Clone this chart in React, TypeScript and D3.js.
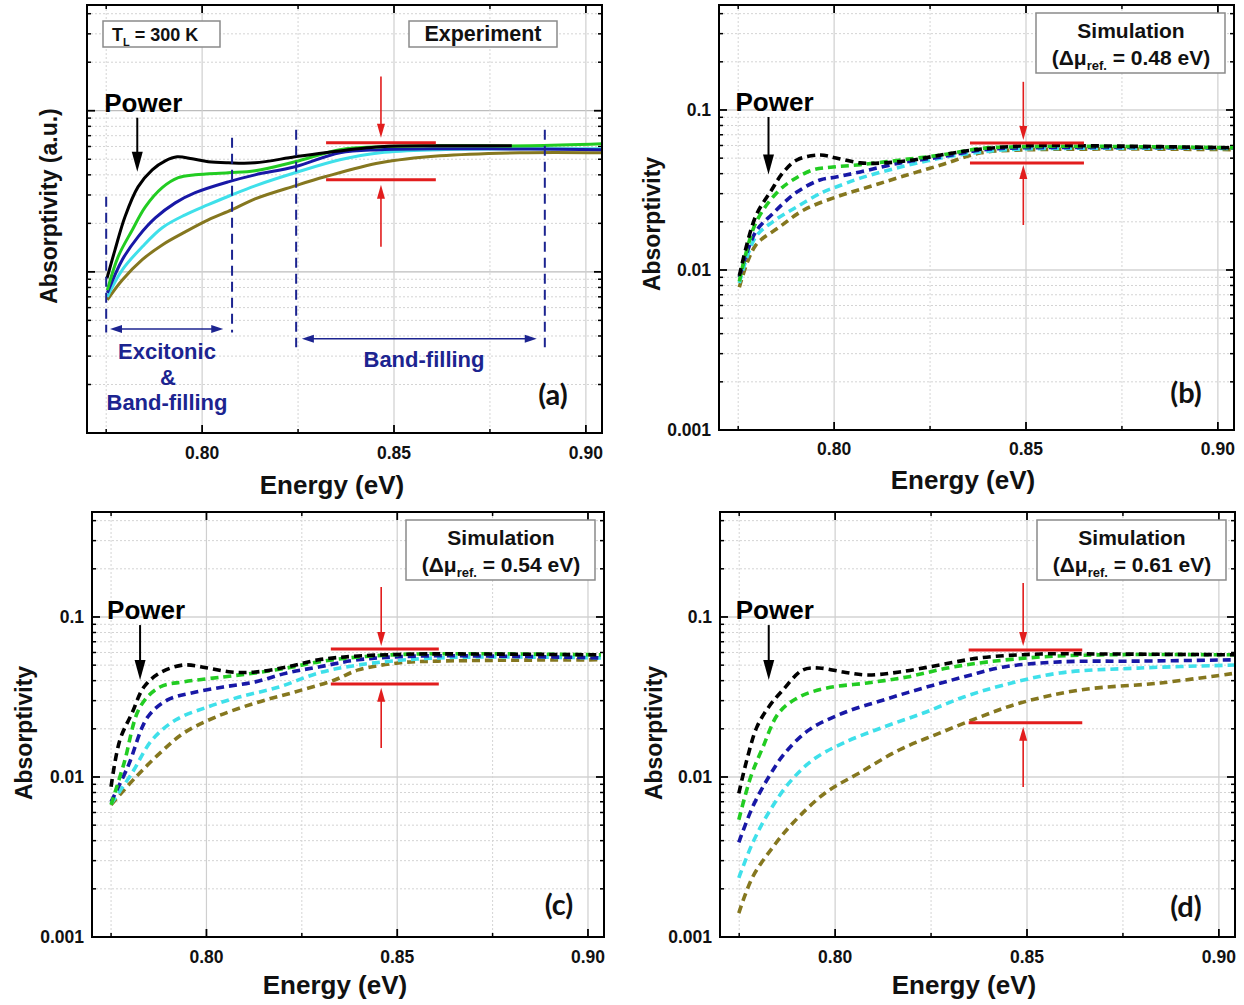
import React from 'react';
import * as d3 from 'd3';

type Pt = [number, number];

// ---------- axes ----------
const X_DOMAIN: [number, number] = [0.770, 0.9042];
const Y_DOMAIN: [number, number] = [0.001, 0.453];
const X_MAJOR = [0.80, 0.85, 0.90];
const X_MINOR = [0.775, 0.825, 0.875];
const X_TICK_LABELS = ['0.80', '0.85', '0.90'];
const Y_MAJOR = [0.001, 0.01, 0.1];
const Y_TICK_LABELS = ['0.001', '0.01', '0.1'];

// ---------- series colours (olive, cyan, blue, green, black) ----------
const SERIES = ['olive', 'cyan', 'blue', 'green', 'black'];
const COLORS: Record<string, string> = {
  olive: '#85771f',
  cyan: '#3fe0ea',
  blue: '#1818a6',
  green: '#22cc22',
  black: '#000000',
};

// ---------- (a) Experiment ----------
const aBlack: Pt[] = [[0.7752, 0.0091], [0.7773, 0.0137], [0.7799, 0.0220], [0.7833, 0.0337], [0.7870, 0.0430], [0.7904, 0.0489], [0.7935, 0.0518], [0.7974, 0.0503], [0.8016, 0.0482], [0.8068, 0.0475], [0.8138, 0.0475], [0.8242, 0.0518], [0.8320, 0.0549], [0.8464, 0.0598], [0.8620, 0.0606], [0.8807, 0.0606]];
const aGreen: Pt[] = [[0.7753, 0.0077], [0.7781, 0.0124], [0.7818, 0.0182], [0.7852, 0.0253], [0.7896, 0.0333], [0.7938, 0.0384], [0.7982, 0.0400], [0.8068, 0.0412], [0.8138, 0.0424], [0.8242, 0.0482], [0.8359, 0.0573], [0.8464, 0.0598], [0.8620, 0.0606], [0.8854, 0.0606], [0.9049, 0.0624]];
const aBlue: Pt[] = [[0.7753, 0.0074], [0.7792, 0.0119], [0.7833, 0.0165], [0.7878, 0.0216], [0.7930, 0.0268], [0.7982, 0.0310], [0.8068, 0.0362], [0.8138, 0.0400], [0.8242, 0.0449], [0.8359, 0.0549], [0.8464, 0.0573], [0.8620, 0.0581], [0.8854, 0.0578], [0.9049, 0.0573]];
const aCyan: Pt[] = [[0.7753, 0.0070], [0.7792, 0.0103], [0.7844, 0.0143], [0.7896, 0.0188], [0.7956, 0.0226], [0.8016, 0.0261], [0.8078, 0.0301], [0.8138, 0.0342], [0.8242, 0.0412], [0.8359, 0.0496], [0.8464, 0.0549], [0.8620, 0.0573], [0.8854, 0.0581], [0.9049, 0.0581]];
const aOlive: Pt[] = [[0.7753, 0.0067], [0.7792, 0.0089], [0.7844, 0.0119], [0.7896, 0.0147], [0.7956, 0.0177], [0.8016, 0.0210], [0.8078, 0.0243], [0.8138, 0.0284], [0.8242, 0.0342], [0.8320, 0.0389], [0.8464, 0.0475], [0.8620, 0.0525], [0.8828, 0.0549], [0.9049, 0.0549]];

// ---------- (b) Simulation 0.48 eV ----------
const bBlack: Pt[] = [[0.7753, 0.0092], [0.7795, 0.0215], [0.7837, 0.0316], [0.7866, 0.0404], [0.7903, 0.0487], [0.7963, 0.0523], [0.8005, 0.0501], [0.8068, 0.0467], [0.8131, 0.0467], [0.8205, 0.0487], [0.8278, 0.0523], [0.8362, 0.0562], [0.8488, 0.0596], [0.8698, 0.0596], [0.9050, 0.0580]];
const bGreen: Pt[] = [[0.7753, 0.0085], [0.7795, 0.0195], [0.7850, 0.0303], [0.7892, 0.0365], [0.7945, 0.0422], [0.7997, 0.0440], [0.8068, 0.0455], [0.8173, 0.0487], [0.8278, 0.0523], [0.8383, 0.0575], [0.8488, 0.0590], [0.8700, 0.0592], [0.9050, 0.0580]];
const bBlue: Pt[] = [[0.7753, 0.0090], [0.7795, 0.0172], [0.7840, 0.0225], [0.7903, 0.0307], [0.7963, 0.0365], [0.8005, 0.0381], [0.8068, 0.0410], [0.8173, 0.0467], [0.8278, 0.0509], [0.8383, 0.0562], [0.8488, 0.0580], [0.9050, 0.0578]];
const bCyan: Pt[] = [[0.7753, 0.0083], [0.7795, 0.0160], [0.7840, 0.0200], [0.7905, 0.0250], [0.7971, 0.0307], [0.8005, 0.0330], [0.8068, 0.0375], [0.8173, 0.0440], [0.8278, 0.0501], [0.8383, 0.0547], [0.8488, 0.0570], [0.9050, 0.0575]];
const bOlive: Pt[] = [[0.7753, 0.0078], [0.7795, 0.0142], [0.7858, 0.0186], [0.7921, 0.0237], [0.8005, 0.0286], [0.8089, 0.0330], [0.8173, 0.0381], [0.8278, 0.0453], [0.8383, 0.0540], [0.8488, 0.0562], [0.8700, 0.0570], [0.9050, 0.0565]];

// ---------- (c) Simulation 0.54 eV ----------
const cBlack: Pt[] = [[0.7750, 0.0087], [0.7773, 0.0170], [0.7805, 0.0251], [0.7836, 0.0365], [0.7878, 0.0447], [0.7940, 0.0501], [0.8003, 0.0480], [0.8065, 0.0453], [0.8128, 0.0453], [0.8211, 0.0487], [0.8294, 0.0540], [0.8398, 0.0570], [0.8555, 0.0587], [0.8711, 0.0587], [0.9034, 0.0580]];
const cGreen: Pt[] = [[0.7750, 0.0067], [0.7784, 0.0122], [0.7826, 0.0274], [0.7878, 0.0365], [0.7940, 0.0393], [0.8044, 0.0422], [0.8128, 0.0447], [0.8211, 0.0480], [0.8294, 0.0524], [0.8398, 0.0562], [0.8555, 0.0587], [0.9034, 0.0580]];
const cBlue: Pt[] = [[0.7750, 0.0070], [0.7794, 0.0116], [0.7846, 0.0237], [0.7898, 0.0303], [0.7961, 0.0335], [0.8044, 0.0365], [0.8128, 0.0393], [0.8211, 0.0447], [0.8294, 0.0487], [0.8398, 0.0540], [0.8555, 0.0570], [0.9034, 0.0555]];
const cCyan: Pt[] = [[0.7750, 0.0068], [0.7805, 0.0106], [0.7857, 0.0170], [0.7919, 0.0227], [0.8003, 0.0274], [0.8086, 0.0316], [0.8190, 0.0365], [0.8294, 0.0447], [0.8398, 0.0501], [0.8555, 0.0547], [0.8711, 0.0562], [0.9034, 0.0555]];
const cOlive: Pt[] = [[0.7750, 0.0067], [0.7815, 0.0100], [0.7878, 0.0141], [0.7940, 0.0188], [0.8024, 0.0237], [0.8128, 0.0290], [0.8232, 0.0340], [0.8336, 0.0404], [0.8398, 0.0467], [0.8503, 0.0516], [0.8607, 0.0530], [0.9034, 0.0540]];

// ---------- (d) Simulation 0.61 eV ----------
const dBlack: Pt[] = [[0.7749, 0.0079], [0.7770, 0.0128], [0.7796, 0.0205], [0.7827, 0.0274], [0.7864, 0.0350], [0.7916, 0.0467], [0.7958, 0.0480], [0.8021, 0.0453], [0.8084, 0.0434], [0.8168, 0.0453], [0.8272, 0.0501], [0.8377, 0.0555], [0.8534, 0.0587], [0.8700, 0.0587], [0.9047, 0.0580]];
const dGreen: Pt[] = [[0.7749, 0.0054], [0.7780, 0.0100], [0.7812, 0.0154], [0.7853, 0.0251], [0.7906, 0.0316], [0.7979, 0.0360], [0.8084, 0.0387], [0.8188, 0.0422], [0.8293, 0.0480], [0.8398, 0.0524], [0.8534, 0.0562], [0.8691, 0.0580], [0.9047, 0.0580]];
const dBlue: Pt[] = [[0.7749, 0.0039], [0.7785, 0.0065], [0.7827, 0.0100], [0.7869, 0.0141], [0.7932, 0.0197], [0.8021, 0.0251], [0.8126, 0.0303], [0.8230, 0.0360], [0.8335, 0.0422], [0.8440, 0.0487], [0.8586, 0.0524], [0.8796, 0.0530], [0.9047, 0.0540]];
const dCyan: Pt[] = [[0.7749, 0.00234], [0.7785, 0.00387], [0.7827, 0.0060], [0.7880, 0.00918], [0.7942, 0.0128], [0.8021, 0.0163], [0.8126, 0.0205], [0.8230, 0.0251], [0.8335, 0.0316], [0.8440, 0.0376], [0.8586, 0.0447], [0.8796, 0.0480], [0.9047, 0.0501]];
const dOlive: Pt[] = [[0.7749, 0.00141], [0.7785, 0.00237], [0.7838, 0.00365], [0.7890, 0.00516], [0.7974, 0.00794], [0.8063, 0.0106], [0.8168, 0.0148], [0.8272, 0.0188], [0.8377, 0.0237], [0.8482, 0.0290], [0.8639, 0.0350], [0.8848, 0.0387], [0.9047, 0.0447]];

// ---------- annotations (data units) ----------
// red bars: [E0, E1, vTop, vBottom]; arrows: [E, vDownStart, vDownEnd, vUpStart, vUpEnd]
const RED_BARS: Record<string, number[]> = {
  a: [0.8323, 0.8609, 0.0633, 0.0373],
  b: [0.8354, 0.8651, 0.0622, 0.0467],
  c: [0.8326, 0.8609, 0.0631, 0.0381],
  d: [0.8348, 0.8644, 0.0622, 0.0218],
};
const RED_ARROWS: Record<string, number[]> = {
  a: [0.8466, 0.163, 0.068, 0.0143, 0.0347],
  b: [0.8493, 0.150, 0.065, 0.0191, 0.0453],
  c: [0.8458, 0.154, 0.0659, 0.0152, 0.0361],
  d: [0.8490, 0.163, 0.0659, 0.00867, 0.0206],
};
// power arrow [E, vStart, vEnd]
const POWER_ARROW: Record<string, number[]> = {
  a: [0.7831, 0.0905, 0.0418],
  b: [0.7829, 0.0904, 0.0395],
  c: [0.7826, 0.089, 0.0404],
  d: [0.7827, 0.089, 0.0404],
};
// region markers in (a)
const REGION_LINES: number[][] = [
  [0.7750, 0.0292, 0.0042],
  [0.8078, 0.068, 0.0042],
  [0.8245, 0.0762, 0.0034],
  [0.8893, 0.0762, 0.0034],
];
const REGION_SPANS: number[][] = [
  [0.7760, 0.8055, 0.00442],
  [0.8260, 0.8872, 0.00385],
];
const SIM_LABELS: Record<string, string> = { b: '0.48', c: '0.54', d: '0.61' };

const NAVY = '#1c2490';
const RED = '#e21d1d';
const FONT = "'Liberation Sans', Arial, sans-serif";

type PanelCfg = {
  id: string;
  left: number; right: number; top: number; bottom: number;
  dashed: boolean;
  yLabels: boolean;
  yTitle: string;
  yTitleX: number; yTitleY: number;
  xTitleX: number; xTitleY: number;
  xTickY: number;
  label: string; labelX: number; labelY: number;
  data: Record<string, Pt[]>;
};

const PANELS: PanelCfg[] = [
  { id: 'a', left: 87, right: 602, top: 5, bottom: 433, dashed: false, yLabels: false, yTitle: 'Absorptivity (a.u.)', yTitleX: 49, yTitleY: 206, xTitleX: 332, xTitleY: 494, xTickY: 459, label: '(a)', labelX: 553, labelY: 405, data: { olive: aOlive, cyan: aCyan, blue: aBlue, green: aGreen, black: aBlack } },
  { id: 'b', left: 719, right: 1234, top: 5, bottom: 430, dashed: true, yLabels: true, yTitle: 'Absorptivity', yTitleX: 652, yTitleY: 224, xTitleX: 963, xTitleY: 489, xTickY: 455, label: '(b)', labelX: 1186, labelY: 403, data: { olive: bOlive, cyan: bCyan, blue: bBlue, green: bGreen, black: bBlack } },
  { id: 'c', left: 92, right: 604, top: 512, bottom: 937, dashed: true, yLabels: true, yTitle: 'Absorptivity', yTitleX: 24, yTitleY: 733, xTitleX: 335, xTitleY: 994, xTickY: 963, label: '(c)', labelX: 559, labelY: 915, data: { olive: cOlive, cyan: cCyan, blue: cBlue, green: cGreen, black: cBlack } },
  { id: 'd', left: 720, right: 1235, top: 512, bottom: 937, dashed: true, yLabels: true, yTitle: 'Absorptivity', yTitleX: 654, yTitleY: 733, xTitleX: 964, xTitleY: 994, xTickY: 963, label: '(d)', labelX: 1186, labelY: 917, data: { olive: dOlive, cyan: dCyan, blue: dBlue, green: dGreen, black: dBlack } },
];

function arrowHead(x: number, y: number, dir: number, w: number, l: number) {
  // dir: +1 pointing down, -1 pointing up
  return `M${x},${y} L${x - w / 2},${y - dir * l} L${x + w / 2},${y - dir * l} Z`;
}

function Panel({ cfg }: { cfg: PanelCfg }) {
  const x = d3.scaleLinear().domain(X_DOMAIN).range([cfg.left, cfg.right]);
  const y = d3.scaleLog().domain(Y_DOMAIN).range([cfg.bottom, cfg.top]);
  const line = d3.line<Pt>().x(d => x(d[0])).y(d => y(d[1])).curve(d3.curveCatmullRom.alpha(0.5));
  const minorY: number[] = [];
  Y_MAJOR.forEach(dec => { for (let k = 2; k <= 9; k++) { const v = dec * k; if (v < Y_DOMAIN[1]) minorY.push(v); } });
  const clipId = `clip-${cfg.id}`;
  const bar = RED_BARS[cfg.id];
  const ra = RED_ARROWS[cfg.id];
  const pa = POWER_ARROW[cfg.id];
  const W = cfg.right - cfg.left;
  return (
    <g>
      <defs>
        <clipPath id={clipId}>
          <rect x={cfg.left} y={cfg.top} width={W} height={cfg.bottom - cfg.top} />
        </clipPath>
      </defs>
      {/* grid */}
      {minorY.map(v => <line key={'gy' + v} x1={cfg.left} x2={cfg.right} y1={y(v)} y2={y(v)} stroke="#d4d4d4" strokeWidth={1} strokeDasharray="2,2" />)}
      {Y_MAJOR.slice(1).map(v => <line key={'gY' + v} x1={cfg.left} x2={cfg.right} y1={y(v)} y2={y(v)} stroke="#bdbdbd" strokeWidth={1.2} />)}
      {X_MINOR.map(v => <line key={'gx' + v} x1={x(v)} x2={x(v)} y1={cfg.top} y2={cfg.bottom} stroke="#d4d4d4" strokeWidth={1} strokeDasharray="2,2" />)}
      {X_MAJOR.map(v => <line key={'gX' + v} x1={x(v)} x2={x(v)} y1={cfg.top} y2={cfg.bottom} stroke="#cfcfcf" strokeWidth={1.2} />)}

      {/* ticks */}
      {minorY.map(v => (
        <g key={'ty' + v}>
          <line x1={cfg.left} x2={cfg.left + 4} y1={y(v)} y2={y(v)} stroke="#000" strokeWidth={1.5} />
          <line x1={cfg.right} x2={cfg.right - 4} y1={y(v)} y2={y(v)} stroke="#000" strokeWidth={1.5} />
        </g>
      ))}
      {Y_MAJOR.map(v => (
        <g key={'tY' + v}>
          <line x1={cfg.left} x2={cfg.left + 8} y1={y(v)} y2={y(v)} stroke="#000" strokeWidth={1.8} />
          <line x1={cfg.right} x2={cfg.right - 8} y1={y(v)} y2={y(v)} stroke="#000" strokeWidth={1.8} />
        </g>
      ))}
      {X_MINOR.map(v => (
        <g key={'tx' + v}>
          <line x1={x(v)} x2={x(v)} y1={cfg.bottom} y2={cfg.bottom - 4} stroke="#000" strokeWidth={1.5} />
          <line x1={x(v)} x2={x(v)} y1={cfg.top} y2={cfg.top + 4} stroke="#000" strokeWidth={1.5} />
        </g>
      ))}
      {X_MAJOR.map(v => (
        <g key={'tX' + v}>
          <line x1={x(v)} x2={x(v)} y1={cfg.bottom} y2={cfg.bottom - 8} stroke="#000" strokeWidth={1.8} />
          <line x1={x(v)} x2={x(v)} y1={cfg.top} y2={cfg.top + 8} stroke="#000" strokeWidth={1.8} />
        </g>
      ))}

      {/* data */}
      <g clipPath={`url(#${clipId})`}>
        {SERIES.map(s => (
          <path key={s} d={line(cfg.data[s]) || ''} fill="none" stroke={COLORS[s]}
            strokeWidth={cfg.dashed ? 3.6 : 3}
            strokeDasharray={cfg.dashed ? '8,5' : undefined} />
        ))}
      </g>

      {/* frame */}
      <rect x={cfg.left} y={cfg.top} width={W} height={cfg.bottom - cfg.top} fill="none" stroke="#000" strokeWidth={2} />

      {/* tick labels */}
      {X_MAJOR.map((v, i) => (
        <text key={'lx' + v} x={x(v)} y={cfg.xTickY} textAnchor="middle" fontFamily={FONT} fontWeight="bold" fontSize={17.5} fill="#111">{X_TICK_LABELS[i]}</text>
      ))}
      {cfg.yLabels && Y_MAJOR.map((v, i) => (
        <text key={'ly' + v} x={cfg.left - 8} y={y(v) + 6} textAnchor="end" fontFamily={FONT} fontWeight="bold" fontSize={17.5} fill="#111">{Y_TICK_LABELS[i]}</text>
      ))}

      {/* axis titles */}
      <text x={cfg.xTitleX} y={cfg.xTitleY} textAnchor="middle" fontFamily={FONT} fontWeight="bold" fontSize={26} fill="#111">Energy (eV)</text>
      <text transform={`translate(${cfg.yTitleX + 8},${cfg.yTitleY}) rotate(-90)`} textAnchor="middle" fontFamily={FONT} fontWeight="bold" fontSize={23} fill="#111">{cfg.yTitle}</text>

      {/* Power annotation */}
      <text x={x(pa[0]) - 33} y={y(pa[1]) - 6} fontFamily={FONT} fontWeight="bold" fontSize={26} fill="#000">Power</text>
      <line x1={x(pa[0])} x2={x(pa[0])} y1={y(pa[1])} y2={y(pa[2]) - 16} stroke="#000" strokeWidth={2} />
      <path d={arrowHead(x(pa[0]), y(pa[2]), 1, 11, 20)} fill="#000" />

      {/* red markers */}
      <line x1={x(bar[0])} x2={x(bar[1])} y1={y(bar[2])} y2={y(bar[2])} stroke={RED} strokeWidth={3} />
      <line x1={x(bar[0])} x2={x(bar[1])} y1={y(bar[3])} y2={y(bar[3])} stroke={RED} strokeWidth={3} />
      <line x1={x(ra[0])} x2={x(ra[0])} y1={y(ra[1])} y2={y(ra[2]) - 12} stroke={RED} strokeWidth={1.6} />
      <path d={arrowHead(x(ra[0]), y(ra[2]), 1, 8, 14)} fill={RED} />
      <line x1={x(ra[0])} x2={x(ra[0])} y1={y(ra[3])} y2={y(ra[4]) + 12} stroke={RED} strokeWidth={1.6} />
      <path d={arrowHead(x(ra[0]), y(ra[4]), -1, 8, 14)} fill={RED} />

      {/* panel label */}
      <text x={cfg.labelX} y={cfg.labelY} textAnchor="middle" fontFamily="Lato, 'Open Sans', sans-serif" fontWeight="bold" fontSize={29} fill="#111">{cfg.label}</text>

      {cfg.id === 'a' ? (
        <g>
          <rect x={103} y={21} width={117} height={26} fill="#fff" stroke="#8a8a8a" strokeWidth={1.5} />
          <text x={112} y={41} fontFamily={FONT} fontWeight="bold" fontSize={18} fill="#111">T<tspan dy={5} fontSize={11}>L</tspan><tspan dy={-5}> = 300 K</tspan></text>
          <rect x={409} y={21} width={148} height={26} fill="#fff" stroke="#8a8a8a" strokeWidth={1.5} />
          <text x={483} y={41} textAnchor="middle" fontFamily={FONT} fontWeight="bold" fontSize={21.5} fill="#111">Experiment</text>
          {REGION_LINES.map((r, i) => (
            <line key={'rl' + i} x1={x(r[0])} x2={x(r[0])} y1={y(r[1])} y2={y(r[2])} stroke={NAVY} strokeWidth={2} strokeDasharray="10,6" />
          ))}
          {REGION_SPANS.map((r, i) => (
            <g key={'rs' + i}>
              <line x1={x(r[0]) + 6} x2={x(r[1]) - 6} y1={y(r[2])} y2={y(r[2])} stroke={NAVY} strokeWidth={1.5} />
              <path d={`M${x(r[0])},${y(r[2])} L${x(r[0]) + 12},${y(r[2]) - 4} L${x(r[0]) + 12},${y(r[2]) + 4} Z`} fill={NAVY} />
              <path d={`M${x(r[1])},${y(r[2])} L${x(r[1]) - 12},${y(r[2]) - 4} L${x(r[1]) - 12},${y(r[2]) + 4} Z`} fill={NAVY} />
            </g>
          ))}
          <text x={167} y={359} textAnchor="middle" fontFamily={FONT} fontWeight="bold" fontSize={22} fill={NAVY}>Excitonic</text>
          <text x={168} y={385} textAnchor="middle" fontFamily={FONT} fontWeight="bold" fontSize={22} fill={NAVY}>&amp;</text>
          <text x={167} y={410} textAnchor="middle" fontFamily={FONT} fontWeight="bold" fontSize={22} fill={NAVY}>Band-filling</text>
          <text x={424} y={367} textAnchor="middle" fontFamily={FONT} fontWeight="bold" fontSize={22} fill={NAVY}>Band-filling</text>
        </g>
      ) : (
        <g>
          <rect x={cfg.right - 198} y={cfg.top + 8} width={189} height={60} fill="#fff" stroke="#8a8a8a" strokeWidth={1.5} />
          <text x={cfg.right - 103} y={cfg.top + 33} textAnchor="middle" fontFamily={FONT} fontWeight="bold" fontSize={21} fill="#111">Simulation</text>
          <text x={cfg.right - 103} y={cfg.top + 60} textAnchor="middle" fontFamily={FONT} fontWeight="bold" fontSize={21} fill="#111">(Δμ<tspan dy={5} fontSize={13}>ref.</tspan><tspan dy={-5}>{` = ${SIM_LABELS[cfg.id]} eV)`}</tspan></text>
        </g>
      )}
    </g>
  );
}

export default function App() {
  return (
    <svg width={1244} height={1005} viewBox="0 0 1244 1005"
      style={{ position: 'absolute', left: 0, top: 0, background: '#fff', display: 'block' }}>
      <rect x={0} y={0} width={1244} height={1005} fill="#fff" />
      {PANELS.map(p => <Panel key={p.id} cfg={p} />)}
    </svg>
  );
}
